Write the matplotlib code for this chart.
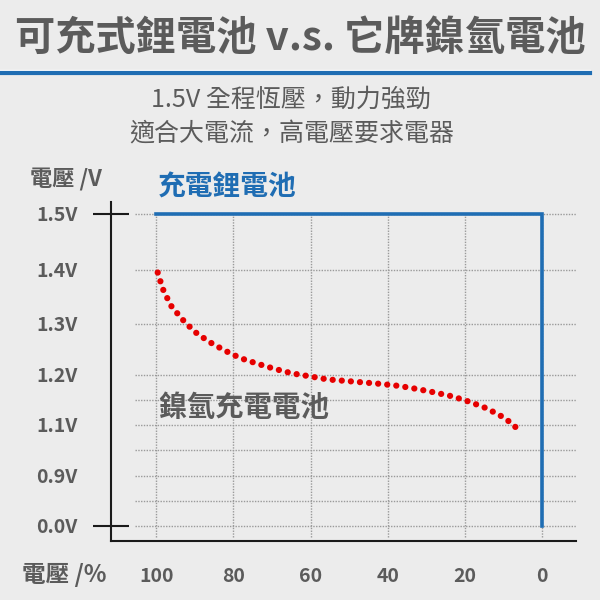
#Import Packages
import numpy as np
import matplotlib
matplotlib.use('Agg')
import matplotlib.pyplot as plt
from matplotlib.lines import Line2D

plt.rcParams['font.family'] = ['Noto Sans CJK TC', 'DejaVu Sans']

#Data
pct_ticks = [100, 80, 60, 40, 20, 0]
volt_ticks = [1.5, 1.4, 1.3, 1.2, 1.1, 0.9, 0.0]
volt_grid = [1.5, 1.4, 1.3, 1.2, 1.15, 1.1, 1.0, 0.9, 0.45, 0.0]

# lithium: flat 1.5V then drop at 0%
li_pct = [100, 0, 0]
li_volt = [1.5, 1.5, 0.0]

# NiMH discharge curve
nimh_pct = [99.6, 98.3, 96.2, 93.3, 90.1, 86.3, 82.3, 78.2, 73.8, 69.4, 64.8,
            60.1, 55.6, 51.0, 46.4, 41.8, 37.1, 32.5, 27.9, 23.2, 18.7, 14.3,
            10.2, 8.2, 6.4]
nimh_volt = [1.395, 1.365, 1.334, 1.309, 1.285, 1.265, 1.248, 1.233, 1.222,
             1.212, 1.203, 1.197, 1.191, 1.188, 1.185, 1.182, 1.178, 1.172,
             1.165, 1.157, 1.146, 1.133, 1.116, 1.105, 1.085]

#Colors
bg = '#ececec'
gray = '#5b5b5b'
blue = '#1f6db3'
red = '#e60000'

# non-linear voltage axis (like the original infographic)
vk = np.array([-1.0, 0.0, 0.9, 1.1, 1.2, 1.3, 1.4, 1.5, 2.5])
pk = np.array([18.4, 74, 124, 175, 225, 276, 330, 386, 946])

def fwd(v):
    return np.interp(v, vk, pk)

def inv(p):
    return np.interp(p, pk, vk)

#Plot
fig = plt.figure(figsize=(6, 6), dpi=100, facecolor=bg)
ax = fig.add_axes([0.185, 0.0983, 0.775, 0.565], facecolor=bg)
ax.set_yscale('function', functions=(fwd, inv))
ax.set_xlim(111.7, -8.8)
ax.set_ylim(-0.27, 1.521)

# grid
ax.vlines(pct_ticks, -0.2, 1.5, colors='#9a9a9a', linestyles=(0, (1, 1)), lw=1, zorder=1)
ax.hlines(volt_grid, 105.4, -8.8, colors='#9a9a9a', linestyles=(0, (1, 1)), lw=1, zorder=1)

ax.plot(nimh_pct, nimh_volt, color=red, lw=4.5, ls=(0, (0.01, 1.45)),
        dash_capstyle='round', zorder=3)
ax.plot(li_pct, li_volt, color=blue, lw=2.6, solid_joinstyle='miter', zorder=4)

# spines & ticks
for s in ['top', 'right']:
    ax.spines[s].set_visible(False)
for s in ['left', 'bottom']:
    ax.spines[s].set_linewidth(1.5)
    ax.spines[s].set_color('#1a1a1a')

ax.set_xticks(pct_ticks)
ax.set_xticklabels([str(p) for p in pct_ticks])
ax.tick_params(axis='x', length=0, pad=19, labelsize=14, labelcolor=gray)
for lab in ax.get_xticklabels():
    lab.set_fontweight('bold')

ax.set_yticks(volt_ticks)
ax.set_yticklabels(['%.1fV' % v for v in volt_ticks])
ax.yaxis.set_minor_locator(matplotlib.ticker.NullLocator())
ax.tick_params(axis='y', direction='inout', length=26, width=1.5, color='#1a1a1a',
               pad=11, labelsize=14, labelcolor=gray)
for lab in ax.get_yticklabels():
    lab.set_fontweight('bold')
for t, v in zip(ax.yaxis.get_major_ticks(), volt_ticks):
    if v not in (1.5, 0.0):
        t.tick1line.set_visible(False)

#Texts
fig.text(0.5, 1 - 38 / 600, '可充式鋰電池 v.s. 它牌鎳氫電池', ha='center', va='center',
         fontsize=29, fontweight='bold', color=gray)
fig.add_artist(Line2D([0, 590 / 600], [1 - 70 / 600] * 2, lw=1, color='white'))
fig.add_artist(Line2D([0, 590 / 600], [1 - 73 / 600] * 2, lw=3, color=blue))
fig.text(0.485, 1 - 100 / 600, '1.5V 全程恆壓，動力強勁', ha='center', va='center',
         fontsize=18, color=gray)
fig.text(0.487, 1 - 134 / 600, '適合大電流，高電壓要求電器', ha='center', va='center',
         fontsize=18, color=gray)
fig.text(30 / 600, 1 - 180 / 600, '電壓 /V', ha='left', va='center',
         fontsize=16, fontweight='bold', color=gray)
fig.text(158 / 600, 1 - 188 / 600, '充電鋰電池', ha='left', va='center',
         fontsize=20, fontweight='bold', color=blue)
fig.text(158 / 600, 1 - 408 / 600, '鎳氫充電電池', ha='left', va='center',
         fontsize=20.5, fontweight='bold', color=gray)
fig.text(22 / 600, 1 - 575 / 600, '電壓 /%', ha='left', va='center',
         fontsize=17, fontweight='bold', color=gray)

plt.savefig('out.png', dpi=100, facecolor=bg)
